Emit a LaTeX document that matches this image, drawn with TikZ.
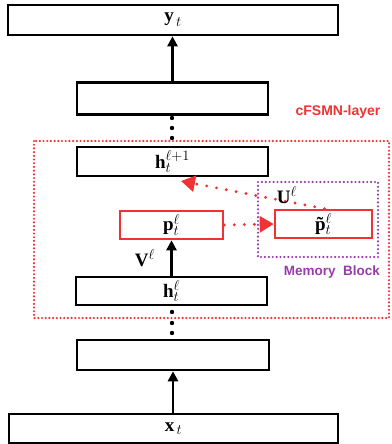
\documentclass[tikz,border=0pt]{standalone}
\usepackage{fontspec}
\setmainfont{Liberation Serif}
\newfontfamily\labelfont{Liberation Sans}
\usetikzlibrary{arrows.meta}
\definecolor{myred}{RGB}{240,50,50}
\definecolor{mypurple}{RGB}{150,60,170}
\newcommand{\bv}[1]{\textbf{#1}}
\begin{document}
\begin{tikzpicture}[x=1pt,y=-1pt,
  box/.style={draw, line width=2.6pt, inner sep=0pt, font=\fontsize{19}{21}\selectfont},
  redbox/.style={draw=myred, line width=2.6pt, inner sep=0pt, font=\fontsize{19}{21}\selectfont},
  arr/.style={line width=2.6pt, -{Triangle[width=10pt,length=10pt]}},
  reddot/.style={draw=myred, line width=3.2pt, line cap=round, dash pattern=on 0pt off 10pt, -{Triangle[width=16pt,length=14pt,fill=myred]}},
  outerdot/.style={draw=myred, line width=2.4pt, line cap=round, dash pattern=on 0pt off 3.7pt},
  purpledot/.style={draw=mypurple, line width=2.4pt, line cap=round, dash pattern=on 0pt off 3.9pt},
  vdot/.style={fill=black, circle, inner sep=0pt, minimum size=4.4pt},
  lbl/.style={font=\fontsize{19}{21}\selectfont}
]
\useasboundingbox (0,0) rectangle (391,444);
% outer cFSMN layer box and memory block
\draw[outerdot] (34,141) rectangle (389,318);
\draw[purpledot] (258,182) rectangle (378,257);
% boxes
\node[box, minimum width=330pt, minimum height=30pt] (yt) at (173,20) {$\bv{y}_{\,t}$};
\node[box, minimum width=191pt, minimum height=32pt] (b2) at (172.5,98.5) {};
\node[box, minimum width=191pt, minimum height=29pt] (h1) at (172.5,161.5) {$\bv{h}_t^{\ell+1}$};
\node[redbox, minimum width=103pt, minimum height=28pt] (p) at (171.5,225) {$\bv{p}_t^{\ell}$};
\node[redbox, minimum width=97pt, minimum height=28pt] (pt) at (323.5,224) {$\bv{\~{p}}_t^{\ell}$};
\node[box, minimum width=191pt, minimum height=28pt] (hl) at (171.5,291) {$\bv{h}_t^{\ell}$};
\node[box, minimum width=192pt, minimum height=30pt] (b4) at (173,355) {};
\node[box, minimum width=329pt, minimum height=29pt] (xt) at (173.5,428.5) {$\bv{x}_{\,t}$};
% arrows
\draw[arr] (b2.north) -- (b2.north |- yt.south);
\draw[arr] (hl.north) -- (hl.north |- p.south);
\draw[arr] (b4.south |- xt.north) -- (b4.south);
\coordinate (hin) at (181,181);
\draw[reddot] ([xshift=1pt]pt.north) -- (hin);
\draw[reddot] (p.east) -- (pt.west);
% vertical dots
\foreach \y in {118,128,138,312,323,333} \node[vdot] at (172,\y) {};
% labels
\node[lbl] (V) at (145,258) {$\bv{V}^{\ell}$};
\node[lbl] (U) at (287,195) {$\bv{U}^{\ell}$};
\node[font=\labelfont\bfseries\fontsize{14}{16}\selectfont, text=myred] (cf) at (338,112) {cFSMN-layer};
\node[font=\labelfont\bfseries\fontsize{13.5}{15}\selectfont, text=mypurple] (mb) at (332,272) {Memory\ \ Block};
\end{tikzpicture}
\end{document}
